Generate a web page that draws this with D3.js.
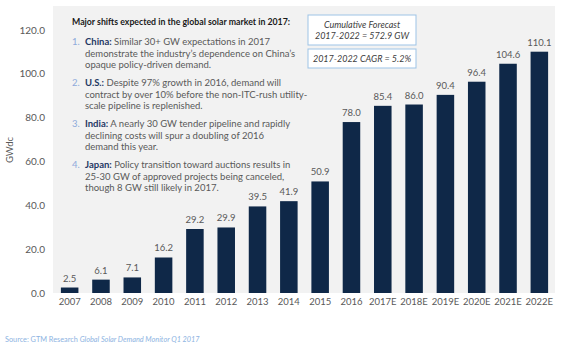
<!DOCTYPE html>
<html>
<head>
<meta charset="utf-8">
<script src="https://cdn.jsdelivr.net/npm/d3@7"></script>
<style>
  body { margin: 0; background: #fff; }
  text { font-family: Lato, "Open Sans", sans-serif; }
</style>
</head>
<body>
<div id="chart"></div>
<script>
const years = ["2007", "2008", "2009", "2010", "2011", "2012", "2013", "2014", "2015", "2016",
  "2017E", "2018E", "2019E", "2020E", "2021E", "2022E"];
const demand = [2.5, 6.1, 7.1, 16.2, 29.2, 29.9, 39.5, 41.9, 50.9, 78.0, 85.4, 86.0, 90.4, 96.4, 104.6, 110.1];
const yTicks = [0, 20, 40, 60, 80, 100, 120];

const noteTitle = "Major shifts expected in the global solar market in 2017:";
const noteHeads = ["China:", "U.S.:", "India:", "Japan:"];
const noteLines = [
  [" Similar 30+ GW expectations in 2017", "demonstrate the industry\u2019s dependence on China\u2019s", "opaque policy-driven demand."],
  [" Despite 97% growth in 2016, demand will", "contract by over 10% before the non-ITC-rush utility-", "scale pipeline is replenished."],
  [" A nearly 30 GW tender pipeline and rapidly", "declining costs will spur a doubling of 2016", "demand this year."],
  [" Policy transition toward auctions results in", "25-30 GW of approved projects being canceled,", "though 8 GW still likely in 2017."]
];
const forecastBox = ["Cumulative Forecast", "2017-2022 = 572.9 GW"];
const cagrBox = "2017-2022 CAGR = 5.2%";

const width = 570, height = 353;

const svg = d3.select("#chart")
  .append("svg")
  .attr("width", width)
  .attr("height", height);

const x = d3.scaleBand()
  .domain(years)
  .range([54, 555])
  .paddingInner(0.44)
  .paddingOuter(0.22);

const y = d3.scaleLinear()
  .domain([0, 120])
  .range([293, 30]);

// plot background
svg.append("rect")
  .attr("x", 53).attr("y", 6)
  .attr("width", 502).attr("height", 287)
  .attr("fill", "#f2f2f2");

// y axis labels
svg.append("g")
  .selectAll("text")
  .data(yTicks)
  .join("text")
  .attr("x", 45)
  .attr("y", d => y(d))
  .attr("dy", "0.35em")
  .attr("text-anchor", "end")
  .attr("font-size", 10)
  .attr("fill", "#595959")
  .text(d => d.toFixed(1));

svg.append("text")
  .attr("transform", "translate(13,150) rotate(-90)")
  .attr("text-anchor", "middle")
  .attr("font-size", 9.5)
  .attr("fill", "#595959")
  .text("GWdc");

// bars
svg.append("g")
  .selectAll("rect")
  .data(demand)
  .join("rect")
  .attr("x", (d, i) => x(years[i]))
  .attr("width", x.bandwidth())
  .attr("y", d => y(d))
  .attr("height", d => y(0) - y(d))
  .attr("fill", "#0f2848");

// value labels
svg.append("g")
  .selectAll("text")
  .data(demand)
  .join("text")
  .attr("x", (d, i) => x(years[i]) + x.bandwidth() / 2)
  .attr("y", d => y(d) - 6)
  .attr("text-anchor", "middle")
  .attr("font-size", 9.5)
  .attr("fill", "#595959")
  .text(d => d.toFixed(1));

// x labels
svg.append("g")
  .selectAll("text")
  .data(years)
  .join("text")
  .attr("x", d => x(d) + x.bandwidth() / 2)
  .attr("y", 305)
  .attr("text-anchor", "middle")
  .attr("font-size", 9.5)
  .attr("fill", "#595959")
  .text(d => d);

// notes
const notes = svg.append("g");
notes.append("text")
  .attr("x", 72).attr("y", 25)
  .attr("font-size", 9.8)
  .attr("font-weight", "bold")
  .attr("fill", "#1a1a1a")
  .attr("textLength", 218)
  .attr("lengthAdjust", "spacingAndGlyphs")
  .text(noteTitle);

noteHeads.forEach((head, i) => {
  const top = 45 + i * 41;
  notes.append("text")
    .attr("x", 72).attr("y", top)
    .attr("font-size", 9.5)
    .attr("fill", "#8eaadb")
    .text((i + 1) + ".");
  noteLines[i].forEach((line, j) => {
    const t = notes.append("text")
      .attr("x", 85).attr("y", top + j * 11.5)
      .attr("font-size", 9.5)
      .attr("fill", "#595959");
    if (j === 0) {
      t.append("tspan").attr("font-weight", "bold").attr("fill", "#1f3864").text(head);
    }
    t.append("tspan").text(line);
  });
});

// forecast boxes
svg.append("rect")
  .attr("x", 308).attr("y", 15)
  .attr("width", 108).attr("height", 30)
  .attr("fill", "#fff")
  .attr("stroke", "#9dc3e6");
forecastBox.forEach((s, i) => {
  svg.append("text")
    .attr("x", 362).attr("y", 28 + i * 11)
    .attr("text-anchor", "middle")
    .attr("font-size", 9)
    .attr("font-style", "italic")
    .attr("fill", "#404040")
    .text(s);
});
svg.append("rect")
  .attr("x", 308).attr("y", 49)
  .attr("width", 108).attr("height", 19)
  .attr("fill", "#fff")
  .attr("stroke", "#9dc3e6");
svg.append("text")
  .attr("x", 362).attr("y", 62)
  .attr("text-anchor", "middle")
  .attr("font-size", 9)
  .attr("font-style", "italic")
  .attr("fill", "#404040")
  .text(cagrBox);

// source
const src = svg.append("text")
  .attr("x", 5).attr("y", 342)
  .attr("font-size", 7.3)
  .attr("fill", "#8db3e2");
src.append("tspan").text("Source: GTM Research ");
src.append("tspan").attr("font-style", "italic").text("Global Solar Demand Monitor Q1 2017");
</script>
</body>
</html>
